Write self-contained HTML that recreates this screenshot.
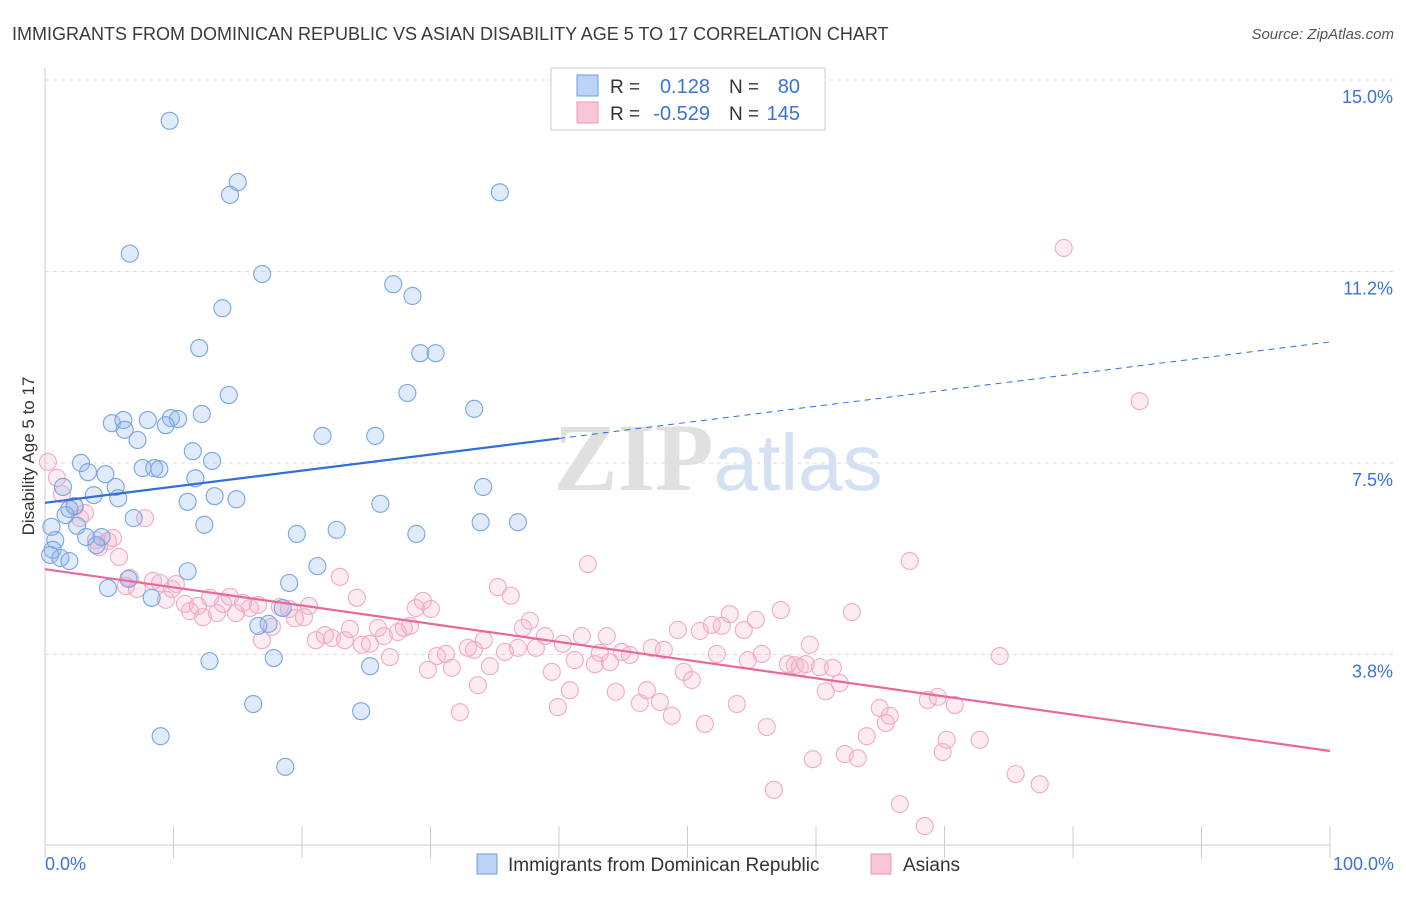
<!DOCTYPE html>
<html><head><meta charset="utf-8"><style>
body{margin:0;background:#fff;font-family:"Liberation Sans",sans-serif}
svg text{font-family:"Liberation Sans",sans-serif}
</style></head><body>
<svg id="chart" width="1406" height="892" xmlns="http://www.w3.org/2000/svg">
<text x="12" y="40" font-size="18" fill="#3a3a3a">IMMIGRANTS FROM DOMINICAN REPUBLIC VS ASIAN DISABILITY AGE 5 TO 17 CORRELATION CHART</text>
<text x="1394" y="39" font-size="15" fill="#555" text-anchor="end" font-style="italic">Source: ZipAtlas.com</text>
<text x="718" y="490" font-size="96" text-anchor="middle"><tspan fill="#e0e0e0" font-family="Liberation Serif" font-weight="bold">ZIP</tspan><tspan fill="#d3e1f3" font-size="80">atlas</tspan></text>
<g id="grid"></g><g id="axes"></g><g id="marks"></g>
<text transform="translate(34,456) rotate(-90)" font-size="17" fill="#333" text-anchor="middle">Disability Age 5 to 17</text>
<g>
<rect x="551" y="68" width="274" height="62" fill="#fff" stroke="#ccc"/>
<rect x="577" y="75" width="21" height="21" fill="#bcd3f5" stroke="#6c9ee0"/>
<rect x="577" y="102" width="21" height="21" fill="#f8c6d6" stroke="#ec9ab4"/>
<text x="610" y="93" font-size="19" fill="#333">R =</text><text x="710" y="93" font-size="20" fill="#3a72d8" text-anchor="end">0.128</text>
<text x="729" y="93" font-size="19" fill="#333">N =</text><text x="800" y="93" font-size="20" fill="#3a72d8" text-anchor="end">80</text>
<text x="610" y="120" font-size="19" fill="#333">R =</text><text x="710" y="120" font-size="20" fill="#3a72d8" text-anchor="end">-0.529</text>
<text x="729" y="120" font-size="19" fill="#333">N =</text><text x="800" y="120" font-size="20" fill="#3a72d8" text-anchor="end">145</text>
</g>
<g>
<rect x="477" y="854" width="20" height="20" fill="#bcd3f5" stroke="#6c9ee0"/>
<text x="508" y="871" font-size="19" fill="#333">Immigrants from Dominican Republic</text>
<rect x="871" y="854" width="20" height="20" fill="#f8c6d6" stroke="#ec9ab4"/>
<text x="903" y="871" font-size="19" fill="#333">Asians</text>
</g>
</svg>
<script>
const yTicks=[3.8,7.5,11.2,15.0];
const yTickVals=[3.75,7.5,11.25,15];
const xTickLabels=["0.0%","100.0%"];
const blueX=[9.7,15.0,14.4,35.4,6.6,16.9,27.1,28.6,13.8,12.0,29.2,30.4,14.3,28.2,33.4,5.2,6.1,8.0,9.8,10.35,12.2,6.2,7.2,9.4,21.6,25.7,11.5,2.8,7.6,8.5,8.9,13.0,3.35,4.7,11.7,1.4,5.5,34.1,3.8,5.7,13.2,14.9,11.1,26.1,1.9,2.3,1.6,6.9,33.9,36.8,12.4,0.5,2.5,22.7,19.6,28.9,3.2,4.4,0.8,4.0,0.6,0.4,1.2,1.9,21.2,11.1,6.5,19.0,4.9,8.3,18.5,16.6,17.4,17.8,12.8,25.3,16.2,24.6,9.0,18.7];
const blueY=[14.2,13.0,12.75,12.8,11.6,11.2,11.0,10.77,10.53,9.75,9.65,9.65,8.83,8.87,8.56,8.28,8.34,8.34,8.38,8.36,8.46,8.15,7.95,8.24,8.03,8.03,7.73,7.5,7.4,7.4,7.38,7.54,7.32,7.28,7.2,7.03,7.03,7.03,6.87,6.81,6.85,6.79,6.74,6.7,6.6,6.66,6.48,6.42,6.34,6.34,6.29,6.25,6.27,6.19,6.11,6.11,6.05,6.05,5.99,5.89,5.8,5.7,5.64,5.58,5.48,5.38,5.23,5.15,5.05,4.86,4.66,4.31,4.35,3.68,3.62,3.52,2.78,2.64,2.15,1.55];
const pinkX=[0.23,0.93,1.32,2.33,3.11,2.72,7.78,3.97,4.9,5.29,5.76,4.2,6.61,6.3,7.16,8.4,8.95,10.19,9.88,9.41,10.89,11.28,11.9,12.29,12.84,13.38,13.85,14.39,14.86,15.4,15.95,16.57,16.88,17.66,18.28,18.98,19.45,20.15,20.54,21.08,21.78,22.33,22.95,23.34,23.73,24.27,24.66,25.29,25.91,26.37,26.84,27.46,27.93,28.4,28.86,29.41,30.03,29.8,30.5,31.2,31.66,32.29,32.91,33.38,33.69,34.15,34.62,35.24,35.79,36.25,36.8,37.19,37.73,38.2,38.9,39.44,39.91,40.3,40.84,41.23,41.78,42.25,42.79,43.18,43.72,43.96,44.42,44.89,45.51,46.29,46.84,47.22,47.85,48.16,48.78,49.25,49.71,50.34,50.96,51.35,51.89,52.28,52.67,53.29,53.84,54.38,54.69,55.32,55.78,56.17,56.72,57.26,57.81,58.35,58.74,59.21,59.52,59.75,60.3,60.76,61.31,61.85,62.24,62.79,63.25,63.95,64.96,65.43,65.74,66.52,67.3,68.46,68.7,69.48,69.86,70.17,70.8,72.74,74.3,75.54,77.41,79.28,85.19];
const pinkY=[7.52,7.21,6.89,6.64,6.52,6.42,6.42,5.99,5.97,6.03,5.66,5.85,5.25,5.09,5.03,5.19,5.15,5.13,5.03,4.82,4.74,4.6,4.7,4.48,4.86,4.56,4.74,4.88,4.56,4.76,4.66,4.72,4.03,4.29,4.68,4.64,4.46,4.48,4.7,4.03,4.13,4.07,5.27,4.03,4.25,4.86,3.94,3.96,4.27,4.11,3.7,4.19,4.27,4.31,4.66,4.8,4.64,3.45,3.72,3.76,3.49,2.62,3.88,3.84,3.15,4.03,3.52,5.07,3.8,4.9,3.88,4.27,4.41,3.88,4.11,3.41,2.72,3.96,3.05,3.64,4.11,5.52,3.56,3.78,4.11,3.6,3.02,3.8,3.74,2.8,3.05,3.88,2.82,3.84,2.55,4.23,3.41,3.25,4.21,2.39,4.33,3.76,4.31,4.54,2.78,4.23,3.64,4.43,3.76,2.33,1.1,4.62,3.56,3.54,3.5,3.56,3.94,1.7,3.5,3.03,3.49,3.19,1.8,4.58,1.72,2.15,2.7,2.41,2.55,0.82,5.58,0.39,2.86,2.92,1.84,2.08,2.76,2.08,3.72,1.41,1.21,11.71,8.71];
const blueTrend=[6.72,9.87];
const pinkTrend=[5.42,1.86];
const NS="http://www.w3.org/2000/svg";
const X0=45,X1=1330,Y0=846,YS=51.07;
const sx=v=>X0+(X1-X0)*v/100;
const sy=v=>Y0-v*YS;
function mk(t,a,p){const e=document.createElementNS(NS,t);for(const k in a)e.setAttribute(k,a[k]);p.appendChild(e);return e;}
const grid=document.getElementById('grid'),axes=document.getElementById('axes'),marks=document.getElementById('marks');
yTickVals.forEach((v,i)=>{
 const l=mk('line',{x1:X0,x2:1394,y1:sy(v),y2:sy(v),stroke:'#ddd','stroke-dasharray':'4,4'},grid);
 
 
 const t=mk('text',{x:1393,y:sy(v)+23,'font-size':18,fill:'#3a72d8','text-anchor':'end'},axes);
 t.textContent=yTicks[i].toFixed(1)+'%';
 
 
});
const ya=mk('line',{x1:X0,x2:X0,y1:68,y2:846,stroke:'#ccc'},axes);


const xa=mk('line',{x1:X0,x2:X1,y1:845,y2:845,stroke:'#ccc'},axes);


for(let i=0;i<=10;i++){
 const tk=mk('line',{x1:sx(i*10),x2:sx(i*10),y1:826,y2:858,stroke:'#ccc'},axes);
 
 
}
[[0,'start',45],[100,'end',1394]].forEach((d,i)=>{
 const t=mk('text',{x:d[2],y:870,'font-size':18,fill:'#3a72d8','text-anchor':d[1]},axes);
 t.textContent=xTickLabels[i];
 
 
});
pinkX.forEach((x,i)=>{
 const c=mk('circle',{cx:sx(x),cy:sy(pinkY[i]),r:8.5,fill:'rgba(245,175,198,0.25)',stroke:'#f0abc1','stroke-width':1.1},marks);
 
 
});
blueX.forEach((x,i)=>{
 const c=mk('circle',{cx:sx(x),cy:sy(blueY[i]),r:8.5,fill:'rgba(140,178,238,0.28)',stroke:'#78a5e4','stroke-width':1.1},marks);
 
 
});
const bx=40,by=blueTrend[0]+(blueTrend[1]-blueTrend[0])*bx/100;
const b1=mk('line',{x1:sx(0),y1:sy(blueTrend[0]),x2:sx(bx),y2:sy(by),stroke:'#2f6fd6','stroke-width':2.2},marks);


const b2=mk('line',{x1:sx(bx),y1:sy(by),x2:sx(100),y2:sy(blueTrend[1]),stroke:'#2f6fd6','stroke-width':1,'stroke-dasharray':'6,5'},marks);


const p1=mk('line',{x1:sx(0),y1:sy(pinkTrend[0]),x2:sx(100),y2:sy(pinkTrend[1]),stroke:'#e8689a','stroke-width':2.2},marks);


</script>
</body></html>
